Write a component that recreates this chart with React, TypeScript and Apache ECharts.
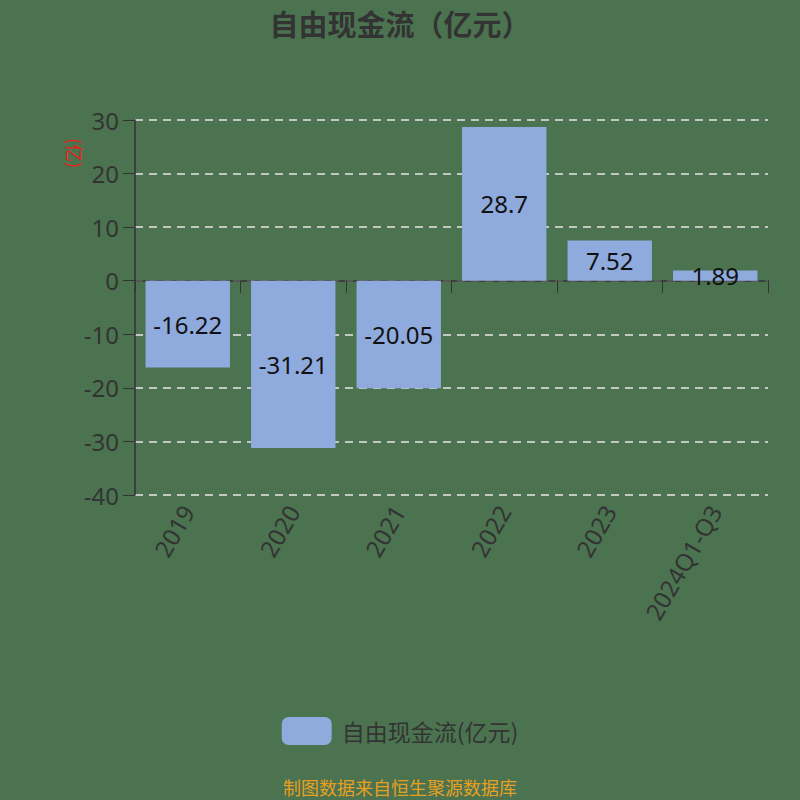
import React, { useEffect, useRef } from "react";
import * as echarts from "echarts";

const categories = ["2019", "2020", "2021", "2022", "2023", "2024Q1-Q3"];
const values = [-16.22, -31.21, -20.05, 28.7, 7.52, 1.89];
const seriesName = "自由现金流(亿元)";
const titleText = "自由现金流（亿元）";
const unitText = "(亿)";
const footerText = "制图数据来自恒生聚源数据库";

export default function App() {
  const ref = useRef<HTMLDivElement>(null);
  useEffect(() => {
    document.body.style.margin = "0";
    const chart = echarts.init(ref.current!, null, { renderer: "svg" });
    chart.setOption({
      animation: false,
      backgroundColor: "#4b7350",
      title: {
        text: titleText,
        left: "center",
        top: 3,
        textStyle: { fontSize: 29, fontWeight: "bold", color: "#333", fontFamily: "Noto Sans CJK SC" },
      },
      grid: { left: 135, right: 32, top: 120, bottom: 305, outerBoundsMode: "none", containLabel: false },
      legend: {
        bottom: 50,
        left: "center",
        itemWidth: 50,
        itemHeight: 28,
        textStyle: { fontSize: 23, color: "#333", fontFamily: "Noto Sans CJK SC", padding: [0, 0, 0, 5] },
        data: [seriesName],
      },
      graphic: [
        {
          type: "text",
          left: "center",
          bottom: 4,
          style: { text: footerText, fontSize: 18, fill: "#e6a020", fontFamily: "Noto Sans CJK SC" },
        },
        {
          type: "text",
          x: 84,
          y: 138,
          rotation: -Math.PI / 2,
          style: { text: unitText, fontSize: 18, fill: "#e8201a", fontFamily: "Noto Sans CJK SC" },
        },
      ],
      xAxis: {
        type: "category",
        data: categories,
        axisLine: { onZero: true, lineStyle: { color: "#333", width: 1.5 } },
        axisTick: { show: true, alignWithLabel: false, length: 12, lineStyle: { color: "#333" } },
        axisLabel: {
          rotate: 60,
          interval: 0,
          fontSize: 24,
          color: "#333",
          margin: 12,
          fontFamily: "Noto Sans",
        },
      },
      yAxis: {
        type: "value",
        min: -40,
        max: 30,
        interval: 10,
        axisLine: { show: true, lineStyle: { color: "#333", width: 1.5 } },
        axisTick: { show: true, length: 12, lineStyle: { color: "#333" } },
        axisLabel: { fontSize: 24, color: "#333", margin: 16, fontFamily: "Noto Sans" },
        splitLine: { lineStyle: { type: [8, 6], color: "#e8e8e8", width: 1.5 } },
      },
      series: [
        {
          name: seriesName,
          type: "bar",
          data: values,
          barWidth: "80%",
          itemStyle: { color: "#8faadc" },
          label: {
            show: true,
            position: "inside",
            fontSize: 24,
            color: "#111",
            fontFamily: "Noto Sans",
          },
        },
      ],
    });
    return () => chart.dispose();
  }, []);
  return <div ref={ref} style={{ width: 800, height: 800 }} />;
}
